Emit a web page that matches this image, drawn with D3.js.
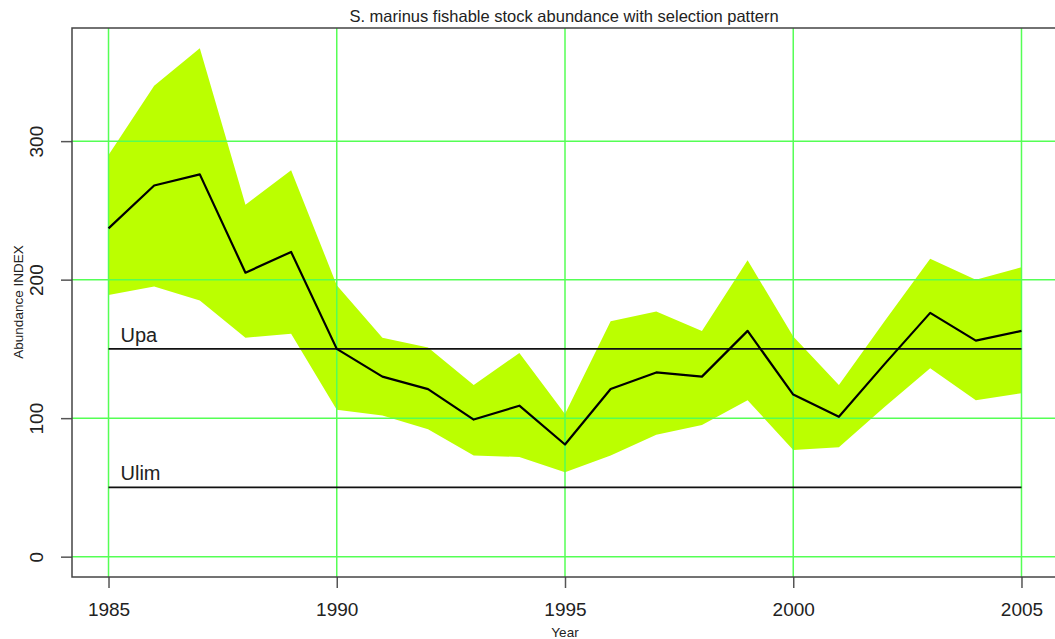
<!DOCTYPE html>
<meta charset="utf-8">
<head>
  <script src="https://d3js.org/d3.v7.min.js"></script>
  <style>
    body { margin: 0; background: #fff; }
    text { font-family: "Liberation Sans", Arial, sans-serif; fill: #222; }
  </style>
</head>
<body>
  <svg width="1055" height="639"></svg>
  <script>
    // values
    var years = [1985, 1986, 1987, 1988, 1989, 1990, 1991, 1992, 1993, 1994, 1995,
                 1996, 1997, 1998, 1999, 2000, 2001, 2002, 2003, 2004, 2005];
    var abundance = [237, 268, 276, 205, 220, 150, 130, 121, 99, 109, 81,
                     121, 133, 130, 163, 117, 101, 139, 176, 156, 163];
    var upper = [290, 340, 367, 254, 279, 196, 158, 151, 124, 147, 103,
                 170, 177, 163, 214, 159, 124, 170, 215, 200, 209];
    var lower = [189, 195, 185, 158, 161, 106, 102, 92, 73, 72, 61,
                 73, 88, 95, 113, 77, 79, 108, 136, 113, 118];
    var refNames = ["Upa", "Ulim"];
    var refValues = [150, 50];
    var xTicks = [1985, 1990, 1995, 2000, 2005];
    var yTicks = [0, 100, 200, 300];

    var svg = d3.select("svg");
    var box = {left: 72, right: 1058, top: 28, bottom: 577};

    // R style 4% padding around the data range
    var yMax = d3.max(upper);
    var x = d3.scaleLinear().domain([1984.2, 2005.8]).range([box.left, box.right]);
    var y = d3.scaleLinear().domain([-0.04 * yMax, yMax * 1.04 - 0.001]).range([box.bottom, box.top]);

    var rows = years.map(function(d, i) {
      return {year: d, value: abundance[i], hi: upper[i], lo: lower[i]};
    });

    // confidence band
    svg.append("path")
      .datum(rows)
      .attr("d", d3.area()
        .x(function(d) { return x(d.year); })
        .y0(function(d) { return y(d.lo); })
        .y1(function(d) { return y(d.hi); }))
      .attr("fill", "#bbff00");

    // grid
    var grid = svg.append("g").attr("stroke", "#55ff55").attr("stroke-width", 1.5);
    grid.selectAll(".gx").data(xTicks).enter().append("line")
      .attr("x1", function(d) { return x(d); }).attr("x2", function(d) { return x(d); })
      .attr("y1", box.top).attr("y2", box.bottom);
    grid.selectAll(".gy").data(yTicks).enter().append("line")
      .attr("x1", box.left).attr("x2", box.right)
      .attr("y1", function(d) { return y(d); }).attr("y2", function(d) { return y(d); });

    // reference levels
    svg.selectAll(".ref").data(refValues).enter().append("line")
      .attr("x1", x(years[0])).attr("x2", x(years[years.length - 1]))
      .attr("y1", function(d) { return y(d); }).attr("y2", function(d) { return y(d); })
      .attr("stroke", "#111").attr("stroke-width", 1.6);
    svg.selectAll(".refLabel").data(refNames).enter().append("text")
      .attr("x", x(years[0]) + 12)
      .attr("y", function(d, i) { return y(refValues[i]) - 7; })
      .style("font-size", "20px")
      .text(function(d) { return d; });

    // abundance index line
    svg.append("path")
      .datum(rows)
      .attr("d", d3.line()
        .x(function(d) { return x(d.year); })
        .y(function(d) { return y(d.value); }))
      .attr("fill", "none")
      .attr("stroke", "#000")
      .attr("stroke-width", 2.2)
      .attr("stroke-linejoin", "round");

    // axes
    var xAxis = svg.append("g")
      .attr("transform", "translate(0," + box.bottom + ")")
      .call(d3.axisBottom(x).tickValues(xTicks).tickFormat(d3.format("d")).tickSize(11).tickPadding(15));
    xAxis.select(".domain").remove();
    xAxis.selectAll("line").attr("stroke", "#555").attr("stroke-width", 1.5);
    xAxis.selectAll("text").style("font-size", "19px").attr("fill", "#222");

    var yAxis = svg.append("g")
      .attr("transform", "translate(" + box.left + ",0)")
      .call(d3.axisLeft(y).tickValues(yTicks).tickSize(11));
    yAxis.select(".domain").remove();
    yAxis.selectAll("line").attr("stroke", "#555").attr("stroke-width", 1.5);
    yAxis.selectAll("text")
      .style("font-size", "19px").attr("fill", "#222")
      .attr("x", null).attr("dy", null)
      .attr("text-anchor", "middle")
      .attr("transform", "translate(-29,0) rotate(-90)");

    // plot frame
    svg.append("rect")
      .attr("x", box.left).attr("y", box.top)
      .attr("width", box.right - box.left).attr("height", box.bottom - box.top)
      .attr("fill", "none").attr("stroke", "#444").attr("stroke-width", 1.5);

    // titles
    svg.append("text")
      .attr("x", 564).attr("y", 22)
      .attr("text-anchor", "middle")
      .style("font-size", "16.5px")
      .text("S. marinus fishable stock abundance with selection pattern");
    svg.append("text")
      .attr("x", 565).attr("y", 637)
      .attr("text-anchor", "middle")
      .style("font-size", "13.5px")
      .text("Year");
    svg.append("text")
      .attr("transform", "translate(23,302) rotate(-90)")
      .attr("text-anchor", "middle")
      .style("font-size", "13.5px")
      .text("Abundance INDEX");
  </script>
</body>
